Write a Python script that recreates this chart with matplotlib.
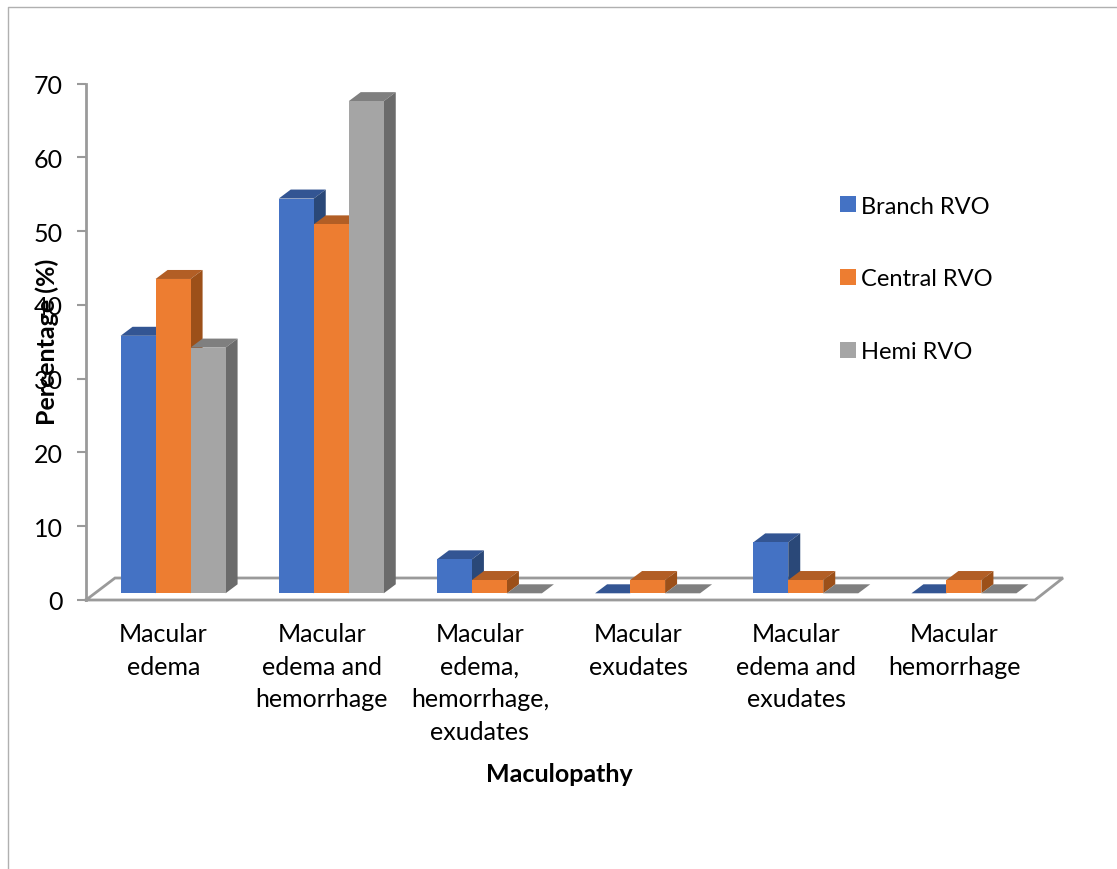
#!/usr/bin/env python3
import numpy as np
import matplotlib
matplotlib.use('Agg')
import matplotlib.pyplot as plt
from matplotlib.lines import Line2D
from matplotlib.transforms import Affine2D

plt.rcParams['font.family'] = ['Lato', 'DejaVu Sans']

categories = ['Macular\nedema', 'Macular\nedema and\nhemorrhage',
              'Macular\nedema,\nhemorrhage,\nexudates', 'Macular\nexudates',
              'Macular\nedema and\nexudates', 'Macular\nhemorrhage']
branch_rvo = [34.9, 53.5, 4.6, 0, 6.9, 0]
central_rvo = [42.6, 50.0, 1.8, 1.8, 1.8, 1.8]
hemi_rvo = [33.3, 66.7, 0, 0, 0, 0]
y_ticks = [0, 10, 20, 30, 40, 50, 60, 70]

series_names = ['Branch RVO', 'Central RVO', 'Hemi RVO']
front_colors = ['#4472C4', '#ED7D31', '#A5A5A5']
top_colors = ['#335593', '#B25E25', '#7F7F7F']
side_colors = ['#2A4878', '#9C5019', '#6B6B6B']

W, H = 1117, 870
AX_L, AX_R, AX_B, AX_T = 86, 1035, 601, 84.5
GRID = '#9A9A9A'
FS = 18

fig = plt.figure(figsize=(W / 100, H / 100), dpi=100)
ax = fig.add_axes([AX_L / W, 1 - AX_B / H, (AX_R - AX_L) / W, (AX_B - AX_T) / H])
ax.set_xlim(0, 6)
ax.set_ylim(0, 70)

# pixel -> data scale, for the fake 3D depth
px_x = 6 / (AX_R - AX_L)
px_y = 70 / (AX_B - AX_T)
depth_x, depth_y = 12 * px_x, 9 * px_y
bar_w = 35 * px_x

# bars stand a bit inside the floor
bar_trans = ax.transData + Affine2D().translate(8.0, 6.7)

# floor
floor_x = [0, 6, 6 + 28 * px_x, 29 * px_x, 0]
floor_y = [0, 0, 22 * px_y, 22 * px_y, 0]
ax.plot(floor_x, floor_y, color=GRID, lw=2, clip_on=False, zorder=1, solid_joinstyle='miter')

centers = np.arange(6) + 0.5
all_series = [branch_rvo, central_rvo, hemi_rvo]
z = 2
for i, values in enumerate(all_series):
    xs = centers + (i - 1) * bar_w
    for x, v in zip(xs, values):
        left, right = x - bar_w / 2, x + bar_w / 2
        ax.fill([left, right, right + depth_x, left + depth_x],
                [v, v, v + depth_y, v + depth_y], color=top_colors[i], lw=0,
                transform=bar_trans, clip_on=False, zorder=z)
        if v > 0:
            ax.fill([right, right + depth_x, right + depth_x, right],
                    [0, depth_y, v + depth_y, v], color=side_colors[i], lw=0,
                    transform=bar_trans, clip_on=False, zorder=z)
    ax.bar(xs, values, width=bar_w, color=front_colors[i], label=series_names[i],
           transform=bar_trans, clip_on=False, zorder=z + 0.5)
    z += 1

ax.set_xticks(centers - 1.5 * px_x)
ax.set_xticklabels(categories, fontsize=FS, linespacing=1.5)
ax.set_yticks(y_ticks)
ax.tick_params(axis='x', length=0, pad=16)
ax.tick_params(axis='y', length=6.5, width=1.5, color=GRID, pad=10, labelsize=18)
for s in ['top', 'right', 'bottom']:
    ax.spines[s].set_visible(False)
ax.spines['left'].set_color(GRID)
ax.spines['left'].set_linewidth(2)

# the y label does sit on top of the tick labels in the original
fig.text(47 / W, 1 - 342 / H, 'Percentage (%)', rotation=90, ha='center', va='center',
         fontsize=18, fontweight='bold', zorder=10)
fig.text(559.5 / W, 1 - 775 / H, 'Maculopathy', ha='center', va='center',
         fontsize=18, fontweight='bold')

ax.legend(loc='upper left', bbox_to_anchor=(840 / W, 1 - 196.5 / H),
          bbox_transform=fig.transFigure, frameon=False, fontsize=17, borderpad=0,
          borderaxespad=0, labelspacing=2.2, handlelength=0.66, handleheight=0.66,
          handletextpad=0.25)

# outer frame of the pasted chart (top and left only)
fig.add_artist(Line2D([8 / W, 8 / W, 1], [0, 1 - 8 / H, 1 - 8 / H],
                      color='#B0B0B0', lw=1, transform=fig.transFigure))

fig.savefig('out.png', dpi=100)
